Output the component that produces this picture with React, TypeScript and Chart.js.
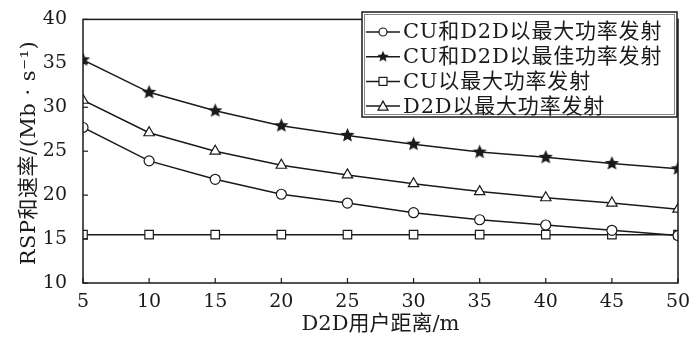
import React, { useEffect, useRef } from "react";
import { Chart, registerables } from "chart.js";

Chart.register(...registerables);

const distances = [5, 10, 15, 20, 25, 30, 35, 40, 45, 50];
const bothMax = [27.7, 23.9, 21.8, 20.1, 19.1, 18.0, 17.2, 16.6, 16.0, 15.4];
const bothBest = [35.4, 31.7, 29.6, 27.9, 26.8, 25.8, 24.9, 24.3, 23.6, 23.0];
const cuMax = [15.5, 15.5, 15.5, 15.5, 15.5, 15.5, 15.5, 15.5, 15.5, 15.5];
const d2dMax = [30.8, 27.1, 25.0, 23.4, 22.3, 21.3, 20.4, 19.7, 19.1, 18.4];
const seriesLabels = [
  "CU和D2D以最大功率发射",
  "CU和D2D以最佳功率发射",
  "CU以最大功率发射",
  "D2D以最大功率发射",
];
const xTitle = "D2D用户距离/m";
const yTitle = "RSP和速率/(Mb · s⁻¹)";

const FONT = '"DejaVu Serif", "Liberation Serif", "Noto Sans CJK SC", serif';
const INK = "#1a1a1a";

function makeStar(r: number): HTMLCanvasElement {
  const c = document.createElement("canvas");
  const s = Math.ceil(r * 2 + 2);
  c.width = s;
  c.height = s;
  const ctx = c.getContext("2d")!;
  const cx = s / 2, cy = s / 2;
  ctx.beginPath();
  for (let i = 0; i < 10; i++) {
    const rad = i % 2 === 0 ? r : r * 0.45;
    const a = -Math.PI / 2 + (i * Math.PI) / 5;
    const px = cx + rad * Math.cos(a);
    const py = cy + rad * Math.sin(a);
    if (i === 0) ctx.moveTo(px, py);
    else ctx.lineTo(px, py);
  }
  ctx.closePath();
  ctx.fillStyle = INK;
  ctx.fill();
  return c;
}

export default function App() {
  const ref = useRef<HTMLCanvasElement | null>(null);
  useEffect(() => {
    document.body.style.margin = "0";
    const star = makeStar(7.5);
    const styles: any[] = ["circle", star, "rect", "triangle"];
    const radii = [5, 7, 6, 6];
    const series = [bothMax, bothBest, cuMax, d2dMax];

    const frame = {
      id: "frame",
      afterDraw(chart: any) {
        const { ctx, chartArea: a, scales } = chart;
        ctx.save();
        ctx.strokeStyle = INK;
        ctx.lineWidth = 1.5;
        ctx.strokeRect(a.left, a.top, a.right - a.left, a.bottom - a.top);
        ctx.lineWidth = 1.2;
        scales.x.ticks.forEach((t: any) => {
          const px = scales.x.getPixelForValue(t.value);
          ctx.beginPath();
          ctx.moveTo(px, a.bottom);
          ctx.lineTo(px, a.bottom - 5);
          ctx.stroke();
        });
        scales.y.ticks.forEach((t: any) => {
          const py = scales.y.getPixelForValue(t.value);
          ctx.beginPath();
          ctx.moveTo(a.left, py);
          ctx.lineTo(a.left + 5, py);
          ctx.stroke();
        });
        // axis titles
        ctx.fillStyle = INK;
        ctx.textAlign = "center";
        ctx.textBaseline = "middle";
        ctx.font = "21px " + FONT;
        ctx.fillText(xTitle, (a.left + a.right) / 2, 325);
        ctx.save();
        ctx.translate(30, 153);
        ctx.rotate(-Math.PI / 2);
        (ctx as any).letterSpacing = "0.5px";
        ctx.fillText(yTitle, 0, 0);
        ctx.restore();
        // legend
        const bx = 362, by = 12, bw = 315, bh = 105;
        ctx.fillStyle = "#fff";
        ctx.fillRect(bx, by, bw, bh);
        ctx.strokeStyle = "#888";
        ctx.lineWidth = 1;
        ctx.strokeRect(bx + 2.5, by + 2.5, bw - 5, bh - 5);
        ctx.strokeStyle = INK;
        ctx.lineWidth = 1.5;
        ctx.strokeRect(bx, by, bw, bh);
        ctx.font = "21px " + FONT;
        (ctx as any).letterSpacing = "0.8px";
        ctx.textBaseline = "middle";
        chart.data.datasets.forEach((ds: any, i: number) => {
          const y = by + 20 + i * 24.7;
          ctx.strokeStyle = INK;
          ctx.lineWidth = 1.5;
          ctx.beginPath();
          ctx.moveTo(bx + 4, y);
          ctx.lineTo(bx + 38, y);
          ctx.stroke();
          const mx = bx + 21;
          const st = styles[i];
          ctx.fillStyle = "#fff";
          ctx.lineWidth = 1.2;
          if (st === "circle") {
            ctx.beginPath();
            ctx.arc(mx, y, 4, 0, Math.PI * 2);
            ctx.fill();
            ctx.stroke();
          } else if (st === "rect") {
            ctx.fillRect(mx - 4, y - 4, 8, 8);
            ctx.strokeRect(mx - 4, y - 4, 8, 8);
          } else if (st === "triangle") {
            ctx.beginPath();
            ctx.moveTo(mx, y - 5);
            ctx.lineTo(mx + 5, y + 4);
            ctx.lineTo(mx - 5, y + 4);
            ctx.closePath();
            ctx.fill();
            ctx.stroke();
          } else {
            const s2 = makeStar(6);
            ctx.drawImage(s2, mx - s2.width / 2, y - s2.height / 2);
          }
          ctx.fillStyle = INK;
          ctx.textAlign = "left";
          ctx.fillText(ds.label, bx + 41, y + 1);
        });
        ctx.restore();
      },
    };

    const chart = new Chart(ref.current!, {
      type: "line",
      data: {
        datasets: series.map((vals, i) => ({
          label: seriesLabels[i],
          data: distances.map((d, j) => ({ x: d, y: vals[j] })),
          borderColor: INK,
          borderWidth: 1.5,
          pointStyle: styles[i],
          pointRadius: radii[i],
          pointBorderColor: INK,
          pointBackgroundColor: "#fff",
          pointBorderWidth: 1.2,
          tension: 0,
        })),
      },
      options: {
        animation: false,
        responsive: false,
        layout: { padding: { top: 12, right: 22, left: 0, bottom: 0 } },
        plugins: { legend: { display: false }, tooltip: { enabled: false } },
        scales: {
          x: {
            type: "linear",
            min: 5,
            max: 50,
            ticks: { stepSize: 5, color: INK, font: { family: FONT, size: 19 }, padding: 0, maxRotation: 0 },
            grid: { display: false },
            border: { display: false },
            title: { display: false, text: xTitle },
            afterFit: (s: any) => { s.height = 56; },
          },
          y: {
            min: 10,
            max: 40,
            ticks: { stepSize: 5, color: INK, font: { family: FONT, size: 19 }, padding: 8 },
            grid: { display: false },
            border: { display: false },
            title: { display: false, text: yTitle },
            afterFit: (s: any) => { s.width = 83; },
          },
        },
      },
      plugins: [frame],
    } as any);
    return () => chart.destroy();
  }, []);
  return (
    <div style={{ width: 700, height: 339, background: "#fff" }}>
      <canvas ref={ref} width={700} height={339} />
    </div>
  );
}
